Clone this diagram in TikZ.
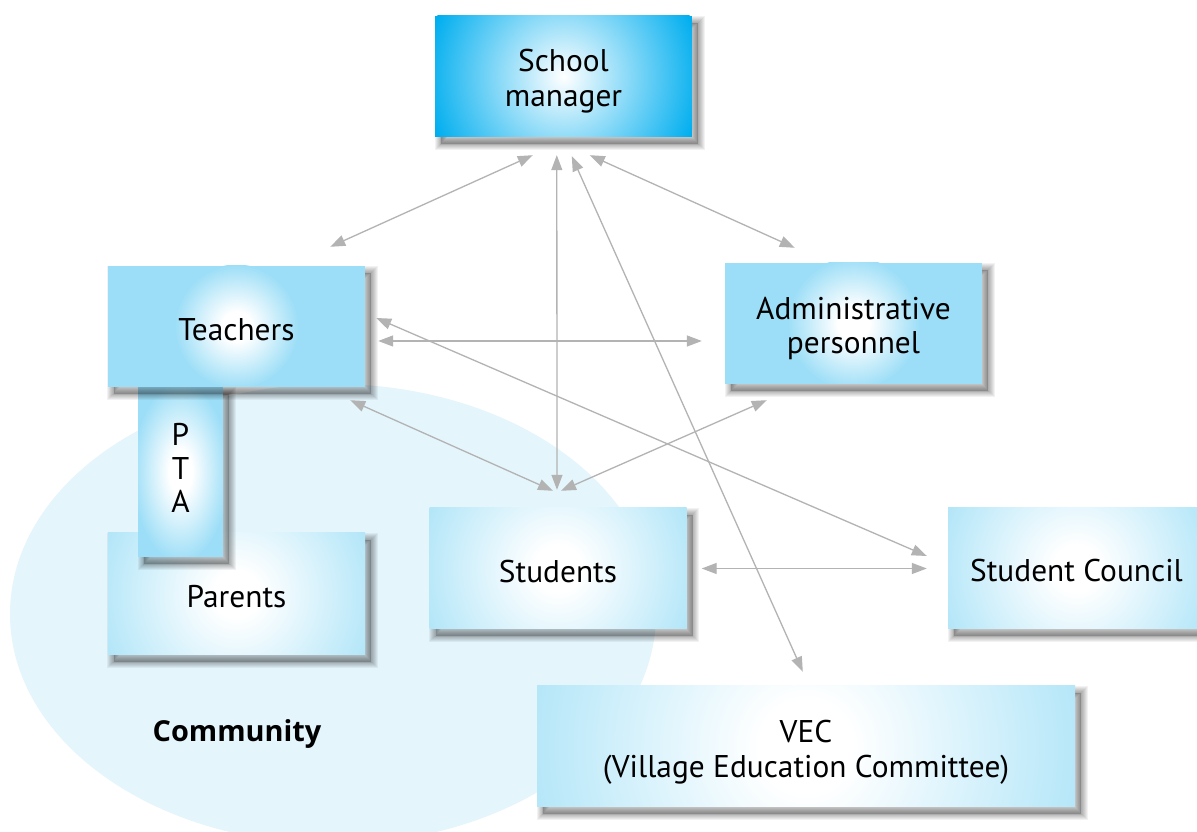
\documentclass[tikz,border=0pt]{standalone}
\usepackage{fontspec}
\setmainfont{PT Sans}
\newfontfamily\commfont{Open Sans}
\usetikzlibrary{arrows.meta,calc}
\definecolor{cyanA}{HTML}{00AEEF}
\definecolor{boxA}{HTML}{9CDEF7}
\definecolor{boxB}{HTML}{B0E5F8}
\definecolor{commC}{HTML}{E4F5FC}
\definecolor{arrC}{HTML}{B3B3B3}
\pgfdeclareradialshading{glowSM}{\pgfpointorigin}{color(0bp)=(white); color(25bp)=(cyanA); color(50bp)=(cyanA)}
\pgfdeclareradialshading{glowA}{\pgfpointorigin}{color(0bp)=(white); color(6bp)=(white); color(25bp)=(boxA); color(50bp)=(boxA)}
\pgfdeclareradialshading{glowB}{\pgfpointorigin}{color(0bp)=(white); color(4bp)=(white); color(25bp)=(boxB); color(50bp)=(boxB)}
\tikzset{
  shadowpart/.style={preaction={path picture={}, draw=black, draw opacity=0.05, line width=#1,
      transform canvas={shift={(6bp,-7bp)}}}},
  box/.style={rectangle, inner sep=0pt, minimum width=257bp, minimum height=121bp,
    shadowpart=13bp, shadowpart=11bp, shadowpart=9bp, shadowpart=7bp, shadowpart=5bp,
    shadowpart=3bp, shadowpart=1.5bp,
    preaction={path picture={}, fill=black, fill opacity=0.2, transform canvas={shift={(6bp,-7bp)}}}},
  txt/.style={align=center, inner sep=0pt, font=\fontsize{31.5}{35}\selectfont},
  glowbox/.style n args={3}{path picture={
    \fill[#1] (path picture bounding box.south west) rectangle (path picture bounding box.north east);
    \shade[shading=#2] (path picture bounding box.center) #3;}},
  conn/.style={draw=arrC, line width=1.3bp, >={Triangle[length=15bp,width=11bp]}, <->},
}
\begin{document}
\begin{tikzpicture}[x=1bp,y=1bp]
\useasboundingbox (0,0) rectangle (1197,832);
\fill[white] (0,0) rectangle (1197,832);
% community
\fill[commC] (333,218) ellipse [x radius=323, y radius=230];
% boxes
\node[box, minimum height=122bp, glowbox={boxB}{glowB}{circle (145)},
  label={[txt, yshift=-3bp]center:Parents}] (P) at (236.5,238) {};
\node[box, minimum width=85bp, minimum height=170bp,
  glowbox={boxA}{glowA}{ellipse [x radius=48, y radius=90]},
  label={[txt, font=\fontsize{31.5}{33.5}\selectfont, yshift=4bp]center:P\\T\\A}] (PTA) at (180.5,360) {};
\node[box, glowbox={boxA}{glowA}{circle (62)},
  label={[txt, yshift=-3bp]center:Teachers}] (T) at (236.5,505.5) {};
\node[box, glowbox={cyanA}{glowSM}{circle (140)},
  label={[txt, yshift=-5bp]center:School\\manager}] (SM) at (563.5,755.5) {};
\node[box, glowbox={boxA}{glowA}{circle (66)},
  label={[txt, yshift=-5bp]center:Administrative\\personnel}] (A) at (853.5,508.5) {};
\node[box, glowbox={boxB}{glowB}{circle (145)},
  label={[txt, yshift=-3bp]center:Students}] (S) at (558,263.5) {};
\node[box, glowbox={boxB}{glowB}{circle (145)},
  label={[txt, yshift=-2bp]center:Student Council}] (C) at (1076.5,263.5) {};
\node[box, minimum width=538bp, glowbox={boxB}{glowB}{circle (290)},
  label={[txt, yshift=-6bp]center:VEC\\(Village Education Committee)}] (V) at (806,85.5) {};
\node[font=\commfont\bfseries\fontsize{29}{35}\selectfont, inner sep=0pt] (comm) at (237,98) {Community};
% connectors
\draw[conn] ($(SM.south west)+(98,-18)$) -- ($(T.north east)+(-35,19)$);
\draw[conn] ($(SM.south west)+(122,-18)$) -- ($(S.north)+(-1,18)$);
\draw[conn] ($(SM.south west)+(137,-19)$) -- ($(V.north west)+(266,14)$);
\draw[conn] ($(SM.south west)+(155,-18)$) -- ($(A.north west)+(70,15)$);
\draw[conn] ($(T.east)+(13,-14.5)$) -- ($(A.west)+(-23,-17.5)$);
\draw[conn] ($(T.east)+(11,8.5)$) -- ($(C.west)+(-21,12.5)$);
\draw[conn] ($(T.south east)+(-15,-13)$) -- ($(S.north)+(-5,17)$);
\draw[conn] ($(A.south west)+(42,-16)$) -- ($(S.north)+(3,17)$);
\draw[conn] ($(S.east)+(15,0)$) -- ($(C.west)+(-21,0)$);
\end{tikzpicture}
\end{document}
